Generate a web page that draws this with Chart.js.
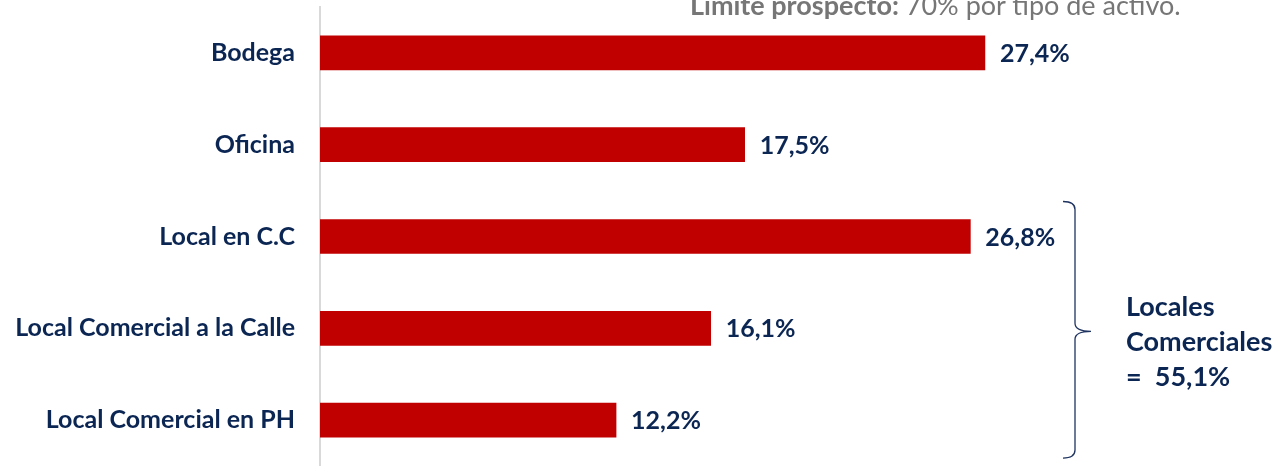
<!DOCTYPE html>
<html>
<head>
<meta charset="utf-8">
<script src="https://cdn.jsdelivr.net/npm/chart.js@4.4.0/dist/chart.umd.min.js"></script>
<style>
  html, body { margin: 0; padding: 0; background: #fff; overflow: hidden; }
  #wrap { position: relative; width: 1280px; height: 466px; }
  #note {
    position: absolute; left: 690px; top: -9px; white-space: nowrap;
    font-family: Lato, sans-serif; font-size: 27px; line-height: 27px; color: #767676;
  }
  #note b { font-weight: 700; }
  #group {
    position: absolute; left: 1126px; top: 288px;
    font-family: Lato, sans-serif; font-weight: 700; font-size: 27px;
    line-height: 35px; color: #0b2653;
  }
</style>
</head>
<body>
<div id="wrap">
  <canvas id="chart1" width="1280" height="466"></canvas>
  <div id="note"><b>Límite prospecto:</b> 70% por tipo de activo.</div>
  <div id="group">Locales<br>Comerciales<br>=&nbsp; 55,1%</div>
</div>
<script>
var categorias = ["Bodega", "Oficina", "Local en C.C", "Local Comercial a la Calle", "Local Comercial en PH"];
var participacion = [27.4, 17.5, 26.8, 16.1, 12.2];

var navy = "#0b2653";

// etiqueta de valor al final de cada barra
var valueLabels = {
  id: "valueLabels",
  afterDatasetsDraw: function (chart) {
    var ctx = chart.ctx;
    var meta = chart.getDatasetMeta(0);
    ctx.save();
    ctx.font = "bold 25px Lato";
    ctx.fillStyle = navy;
    ctx.textBaseline = "middle";
    meta.data.forEach(function (bar, i) {
      var txt = participacion[i].toFixed(1).replace(".", ",") + "%";
      ctx.fillText(txt, bar.x + 15, bar.y + 1);
    });
    ctx.restore();
  }
};

// llave que agrupa los locales comerciales
var brace = {
  id: "brace",
  afterDraw: function (chart) {
    var y = chart.scales.y;
    var top = y.getPixelForValue(2) - 35;
    var bot = y.getPixelForValue(4) + 38;
    var mid = y.getPixelForValue(3) + 3;
    var x = 1075, r = 8;
    var ctx = chart.ctx;
    ctx.save();
    ctx.strokeStyle = "#1f3360";
    ctx.lineWidth = 1.3;
    ctx.beginPath();
    ctx.moveTo(x - r - 4, top);
    ctx.quadraticCurveTo(x, top, x, top + r);
    ctx.lineTo(x, mid - r);
    ctx.quadraticCurveTo(x, mid, x + r + 8, mid);
    ctx.quadraticCurveTo(x, mid, x, mid + r);
    ctx.lineTo(x, bot - r);
    ctx.quadraticCurveTo(x, bot, x - r - 4, bot);
    ctx.stroke();
    ctx.restore();
  }
};

new Chart("chart1", {
  type: "bar",
  data: {
    labels: categorias,
    datasets: [{
      data: participacion,
      backgroundColor: "#c00000",
      borderWidth: 0,
      barThickness: 34
    }]
  },
  options: {
    indexAxis: "y",
    responsive: false,
    animation: false,
    layout: { padding: { top: 7, right: 232, bottom: 0, left: 0 } },
    plugins: {
      legend: { display: false },
      tooltip: { enabled: false }
    },
    scales: {
      x: {
        display: false,
        min: 0,
        max: 30
      },
      y: {
        afterFit: function (scale) {
          scale.width = 320;
          scale.paddingTop = 0;
          scale.paddingBottom = 0;
        },
        grid: { display: false, drawTicks: false },
        border: { display: true, color: "#d9d9d9", width: 2 },
        ticks: {
          padding: 25,
          color: navy,
          font: { family: "Lato", weight: "bold", size: 25 }
        }
      }
    }
  },
  plugins: [valueLabels, brace]
});
</script>
</body>
</html>
